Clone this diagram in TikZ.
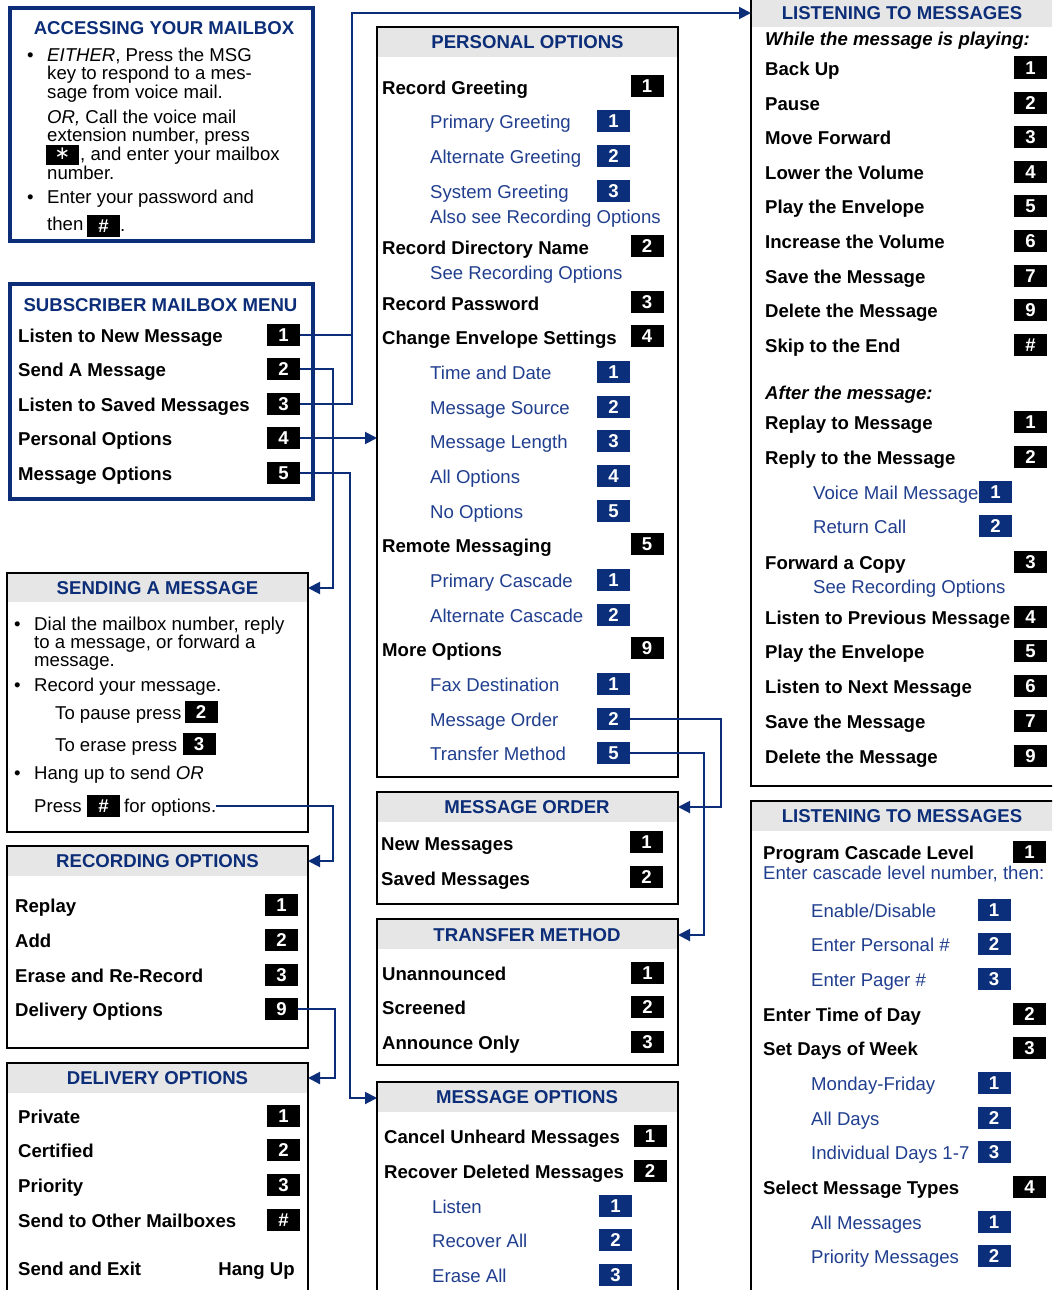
\documentclass[tikz,border=0pt]{standalone}
\usepackage{fontspec}
\setmainfont{Liberation Sans}
\newfontfamily\djv{DejaVu Sans}
\usetikzlibrary{arrows.meta}
\definecolor{hdrblue}{RGB}{12,45,120}
\definecolor{itemblue}{RGB}{32,62,142}
\definecolor{keyblue}{RGB}{11,47,122}
\definecolor{hdrgray}{RGB}{230,230,230}
\newcommand\fs{\fontsize{18.6pt}{18.5pt}\selectfont}
\begin{document}
\begin{tikzpicture}[x=1pt,y=-1pt,
  txt/.style={anchor=west, inner sep=0pt, text height=13.4pt, text depth=0pt, font=\fs},
  bt/.style={txt, font=\fs\bfseries},
  bl/.style={txt, text=itemblue},
  bit/.style={txt, font=\fs\bfseries\itshape},
  ttl/.style={inner sep=0pt, text height=13.4pt, text depth=0pt, font=\fs\bfseries, text=hdrblue},
  key/.style={fill=black, text=white, font=\fs\bfseries, minimum width=33pt, minimum height=22pt, inner sep=0pt, text height=13.4pt, text depth=0pt},
  bkey/.style={key, fill=keyblue},
  frame/.style={draw=black, line width=2pt, anchor=north west, inner sep=0pt, outer sep=0pt},
  bframe/.style={draw=hdrblue, line width=3.5pt, anchor=north west, inner sep=0pt, outer sep=0pt},
  conn/.style={draw=hdrblue, line width=2pt},
  arr/.style={conn, -{Triangle[length=12pt,width=12pt]}}]
\useasboundingbox (0,0) rectangle (1052,1290);
\clip (0,0) rectangle (1052,1290);

% ---------------- ACCESSING YOUR MAILBOX
\node[bframe, minimum width=303pt, minimum height=233pt] (acc) at (10,8) {};
\node[ttl] (acct) at (164,28) {ACCESSING YOUR MAILBOX};
\node[txt] (ab1) at (27,55) {•};
\node[txt] (a1) at (47,55) {\textit{EITHER}, Press the MSG};
\node[txt] (a2) at (47,73) {key to respond to a mes-};
\node[txt] (a3) at (47,92) {sage from voice mail.};
\node[txt] (a4) at (47,117) {\textit{OR,} Call the voice mail};
\node[txt] (a5) at (47,135) {extension number, press};
\node[key, font=\fs\mdseries, minimum height=20pt, text height=10pt] (ak1) at (62.5,154.5) {\djv ∗};
\node[txt] (a6) at (80,154) {, and enter your mailbox};
\node[txt] (a7) at (47,172.5) {number.};
\node[txt] (ab2) at (27,197) {•};
\node[txt] (a8) at (47,197) {Enter your password and};
\node[txt] (a9) at (47,224) {then};
\node[key] (ak2) at (103.5,225.5) {\#};
\node[txt] (a10) at (120,225) {.};

% ---------------- SUBSCRIBER MAILBOX MENU
\node[bframe, minimum width=303pt, minimum height=215pt] (sub) at (10,284) {};
\node[ttl] (subt) at (160.5,305) {SUBSCRIBER MAILBOX MENU};
\foreach \t/\k/\y [count=\i] in {Listen to New Message/1/334.5, Send A Message/2/368.5, Listen to Saved Messages/3/404, Personal Options/4/438, Message Options/5/472.5}
  {\node[bt] (st\i) at (18,\y+1) {\t}; \node[key] (sk\i) at (283.5,\y) {\k};}

% ---------------- SENDING A MESSAGE
\fill[hdrgray] (7,573) rectangle (308,602);
\node[frame, minimum width=301pt, minimum height=259pt] (sm) at (7,573) {};
\node[ttl] (smt) at (157.5,588) {SENDING A MESSAGE};
\node[txt] (sb1) at (14,624) {•};
\node[txt] (s1) at (34,624) {Dial the mailbox number, reply};
\node[txt] (s2) at (34,642) {to a message, or forward a};
\node[txt] (s3) at (34,660) {message.};
\node[txt] (sb2) at (14,685) {•};
\node[txt] (s4) at (34,685) {Record your message.};
\node[txt] (s5) at (55,713) {To pause press};
\node[key] (sk21) at (201,712) {2};
\node[txt] (s6) at (55,745) {To erase press};
\node[key] (sk22) at (199,744) {3};
\node[txt] (sb3) at (14,773) {•};
\node[txt] (s7) at (34,773) {Hang up to send \textit{OR}};
\node[txt] (s8) at (34,806) {Press};
\node[key] (sk23) at (103.5,806) {\#};
\node[txt] (opts) at (124,806) {for options.};

% ---------------- RECORDING OPTIONS
\fill[hdrgray] (7,846) rectangle (308,876);
\node[frame, minimum width=301pt, minimum height=202pt] (ro) at (7,846) {};
\node[ttl] (rot) at (157.5,861) {RECORDING OPTIONS};
\foreach \t/\k/\y [count=\i] in {Replay/1/906, Add/2/941, Erase and Re-Record/3/976, Delivery Options/9/1010}
  {\node[bt] (rt\i) at (15,\y) {\t}; \node[key] (rk\i) at (281.5,\y-1) {\k};}

% ---------------- DELIVERY OPTIONS
\fill[hdrgray] (7,1063) rectangle (308,1093);
\node[frame, minimum width=301pt, minimum height=260pt] (do) at (7,1063) {};
\node[ttl] (dot) at (157.5,1078) {DELIVERY OPTIONS};
\foreach \t/\k/\y [count=\i] in {Private/1/1117, Certified/2/1151, Priority/3/1186, Send to Other Mailboxes/\#/1221}
  {\node[bt] (dt\i) at (18,\y) {\t}; \node[key] (dk\i) at (283.5,\y-1) {\k};}
\node[bt] (dt5) at (18,1269) {Send and Exit};
\node[bt, anchor=east] (dt6) at (295,1269) {Hang Up};

% ---------------- PERSONAL OPTIONS
\fill[hdrgray] (377,27) rectangle (678,57);
\node[frame, minimum width=301pt, minimum height=750pt] (po) at (377,27) {};
\node[ttl] (pot) at (527.5,42) {PERSONAL OPTIONS};
\foreach \t/\k/\y [count=\i] in {Record Greeting/1/88, Record Directory Name/2/248, Record Password/3/304, Change Envelope Settings/4/338, Remote Messaging/5/546, More Options/9/650}
  {\node[bt] (pa\i) at (382,\y) {\t}; \node[key] (pak\i) at (647,\y-2) {\k};}
\foreach \t/\k/\y [count=\i] in {Primary Greeting/1/122, Alternate Greeting/2/157, System Greeting/3/192, Time and Date/1/373, Message Source/2/408, Message Length/3/442, All Options/4/477, No Options/5/512, Primary Cascade/1/581, Alternate Cascade/2/616, Fax Destination/1/685, Message Order/2/720, Transfer Method/5/754}
  {\node[bl] (pb\i) at (430,\y) {\t}; \node[bkey] (pbk\i) at (613.5,\y-1.5) {\k};}
\node[bl] (pc1) at (430,217) {Also see Recording Options};
\node[bl] (pc2) at (430,273) {See Recording Options};

% ---------------- MESSAGE ORDER
\fill[hdrgray] (377,792) rectangle (678,822);
\node[frame, minimum width=301pt, minimum height=112pt] (mord) at (377,792) {};
\node[ttl] (mordt) at (527,807) {MESSAGE ORDER};
\foreach \t/\k/\y [count=\i] in {New Messages/1/844, Saved Messages/2/879}
  {\node[bt] (mr\i) at (381,\y) {\t}; \node[key] (mrk\i) at (646.5,\y-2) {\k};}

% ---------------- TRANSFER METHOD
\fill[hdrgray] (377,919) rectangle (678,949);
\node[frame, minimum width=301pt, minimum height=146pt] (tm) at (377,919) {};
\node[ttl] (tmt) at (527,935) {TRANSFER METHOD};
\foreach \t/\k/\y [count=\i] in {Unannounced/1/974, Screened/2/1008, Announce Only/3/1043}
  {\node[bt] (tr\i) at (382,\y) {\t}; \node[key] (trk\i) at (647.5,\y-1) {\k};}

% ---------------- MESSAGE OPTIONS
\fill[hdrgray] (377,1082) rectangle (678,1112);
\node[frame, minimum width=301pt, minimum height=260pt] (mo) at (377,1082) {};
\node[ttl] (mot) at (527,1097) {MESSAGE OPTIONS};
\foreach \t/\k/\y [count=\i] in {Cancel Unheard Messages/1/1137, Recover Deleted Messages/2/1172}
  {\node[bt] (ma\i) at (384,\y) {\t}; \node[key] (mak\i) at (650,\y-1.5) {\k};}
\foreach \t/\k/\y [count=\i] in {Listen/1/1207, Recover All/2/1241, Erase All/3/1276}
  {\node[bl] (mb\i) at (432,\y) {\t}; \node[bkey] (mbk\i) at (615.5,\y-1.5) {\k};}

% ---------------- LISTENING TO MESSAGES (top)
\fill[hdrgray] (751,-10) rectangle (1060,27);
\node[frame, minimum width=320pt, minimum height=796pt] (lt1) at (751,-10) {};
\node[ttl] (lt1t) at (902,13) {LISTENING TO MESSAGES};
\node[bit] (lw1) at (765,39) {While the message is playing:};
\foreach \t/\k/\y [count=\i] in {Back Up/1/69, Pause/2/104, Move Forward/3/138, Lower the Volume/4/173, Play the Envelope/5/207, Increase the Volume/6/242, Save the Message/7/277, Delete the Message/9/311, Skip to the End/\#/346, Replay to Message/1/423, Reply to the Message/2/458}
  {\node[bt] (la\i) at (765,\y) {\t}; \node[key] (lak\i) at (1030.5,\y-1.5) {\k};}
\node[bit] (lw2) at (765,393) {After the message:};
\foreach \t/\k/\y [count=\i] in {Voice Mail Message/1/493, Return Call/2/527}
  {\node[bl] (lb\i) at (813,\y) {\t}; \node[bkey] (lbk\i) at (995.5,\y-1.5) {\k};}
\foreach \t/\k/\y [count=\i] in {Forward a Copy/3/563, Listen to Previous Message/4/618, Play the Envelope/5/652, Listen to Next Message/6/687, Save the Message/7/722, Delete the Message/9/757}
  {\node[bt] (lc\i) at (765,\y) {\t}; \node[key] (lck\i) at (1030.5,\y-1.5) {\k};}
\node[bl] (lsee) at (813,587) {See Recording Options};

% ---------------- LISTENING TO MESSAGES (bottom)
\fill[hdrgray] (751,801) rectangle (1060,831);
\node[frame, minimum width=320pt, minimum height=520pt] (lt2) at (751,801) {};
\node[ttl] (lt2t) at (902,816) {LISTENING TO MESSAGES};
\node[bl] (le) at (763,873) {Enter cascade level number, then:};
\foreach \t/\k/\y [count=\i] in {Program Cascade Level/1/853, Enter Time of Day/2/1015, Set Days of Week/3/1049, Select Message Types/4/1188}
  {\node[bt] (ld\i) at (763,\y) {\t}; \node[key] (ldk\i) at (1029.5,\y-1.5) {\k};}
\node[bl] (lf0) at (811,911) {Enable/Disable};
\node[bkey] (lfk0) at (994,909.5) {1};
\foreach \t/\k/\y [count=\i] in {Enter Personal \#/2/945, Enter Pager \#/3/980, Monday-Friday/1/1084, All Days/2/1119, Individual Days 1-7/3/1153, All Messages/1/1223, Priority Messages/2/1257}
  {\node[bl] (lf\i) at (811,\y) {\t}; \node[bkey] (lfk\i) at (994,\y-1.5) {\k};}

% ---------------- CONNECTORS
\coordinate (j1) at (352,13);
\coordinate (j2) at (333,588);
\coordinate (j3) at (350,1098);
\coordinate (j4) at (333,861);
\coordinate (j5) at (335,1078);
\coordinate (j6) at (721,807);
\coordinate (j7) at (704,935);
\draw[conn] (sk1.east) -- (sk1.east -| j1);
\draw[arr] (sk3.east) -| (j1) -- (j1 -| lt1.west);
\draw[arr] (sk2.east) -| (j2) -- (j2 -| sm.east);
\draw[arr] (sk4.east) -- (sk4.east -| po.west);
\draw[arr] (sk5.east) -| (j3) -- (j3 -| mo.west);
\draw[arr] (opts.east) -| (j4) -- (j4 -| ro.east);
\draw[arr] (rk4.east) -| (j5) -- (j5 -| do.east);
\draw[arr] (pbk12.east) -| (j6) -- (j6 -| mord.east);
\draw[arr] (pbk13.east) -| (j7) -- (j7 -| tm.east);
\end{tikzpicture}
\end{document}
